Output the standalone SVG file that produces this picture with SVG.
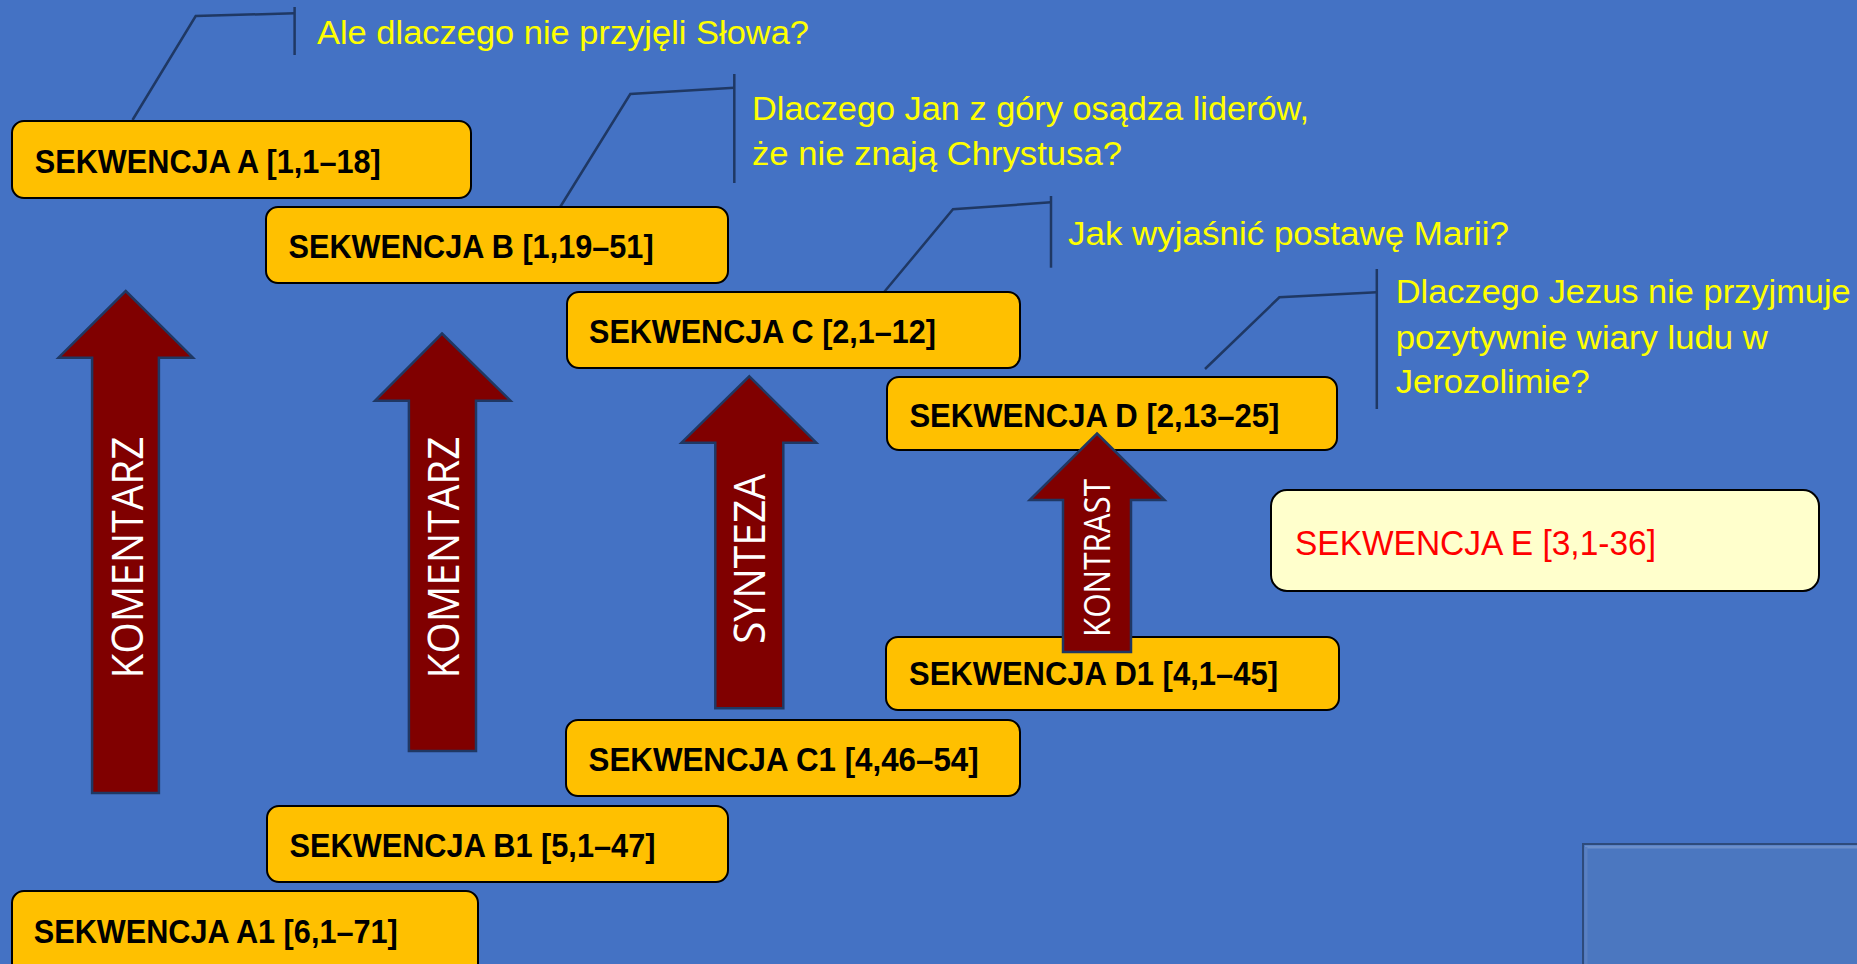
<svg xmlns="http://www.w3.org/2000/svg" width="1857" height="964" viewBox="0 0 1857 964">
<style>
.box{fill:#FFC000;stroke:#000;stroke-width:2}
.boxE{fill:#FFFFCC;stroke:#000;stroke-width:2}
.lbl{font-family:"Liberation Sans Narrow","Liberation Sans",Arial,sans-serif;font-weight:bold;font-size:33px;fill:#000}
.lblE{font-family:"Liberation Sans Narrow","Liberation Sans",Arial,sans-serif;font-size:35px;fill:#FF0000}
.q{font-family:"Liberation Sans Narrow","Liberation Sans",Arial,sans-serif;font-size:33px;fill:#FFFF00}
.arr{fill:#800000;stroke:#1F3864;stroke-width:2.5;stroke-linejoin:miter}
.al{font-family:"Open Sans","Noto Sans",sans-serif;fill:#FFFFFF;text-anchor:middle}
.co{fill:none;stroke:#1F3864;stroke-width:2.5}
</style>
<rect x="0" y="0" width="1857" height="964" fill="#4472C4"/>
<g id="corner-panel">
<rect x="1583" y="844" width="290" height="130" fill="#4B77C0" stroke="#2E4B7C" stroke-width="2"/>
<line x1="1585" y1="847" x2="1857" y2="847" stroke="#6C8FCB" stroke-width="3"/>
<line x1="1586" y1="847" x2="1586" y2="964" stroke="#5A80C2" stroke-width="3"/>
</g>
<g id="connectors">
<polyline class="co" points="132.5,120 195.7,16 294.6,13.3"/>
<line class="co" x1="294.6" y1="7" x2="294.6" y2="55"/>
<polyline class="co" points="560.2,207 630.3,94 734.3,87.7"/>
<line class="co" x1="734.3" y1="74" x2="734.3" y2="183"/>
<polyline class="co" points="882.5,294 953,209.3 1051,202.3"/>
<line class="co" x1="1051" y1="196" x2="1051" y2="267.7"/>
<polyline class="co" points="1205,369 1279.4,297.3 1376.8,292.3"/>
<line class="co" x1="1376.8" y1="269" x2="1376.8" y2="409"/>
</g>
<g id="q-A"><text class="q" x="317" y="44.3" textLength="492" lengthAdjust="spacingAndGlyphs">Ale dlaczego nie przyjęli Słowa?</text></g>
<g id="q-B">
<text class="q" x="752" y="120" textLength="557" lengthAdjust="spacingAndGlyphs">Dlaczego Jan z góry osądza liderów,</text>
<text class="q" x="752" y="164.5" textLength="370" lengthAdjust="spacingAndGlyphs">że nie znają Chrystusa?</text>
</g>
<g id="q-C"><text class="q" x="1068" y="245" textLength="441" lengthAdjust="spacingAndGlyphs">Jak wyjaśnić postawę Marii?</text></g>
<g id="q-D">
<text class="q" x="1395.7" y="303.3" textLength="455" lengthAdjust="spacingAndGlyphs">Dlaczego Jezus nie przyjmuje</text>
<text class="q" x="1395.7" y="349" textLength="372" lengthAdjust="spacingAndGlyphs">pozytywnie wiary ludu w</text>
<text class="q" x="1395.7" y="393.3" textLength="194" lengthAdjust="spacingAndGlyphs">Jerozolimie?</text>
</g>
<g id="node-A"><rect class="box" x="12" y="121" width="459" height="77" rx="12"/><text class="lbl" x="34.8" y="173.3" textLength="346" lengthAdjust="spacingAndGlyphs">SEKWENCJA A [1,1–18]</text></g>
<g id="node-B"><rect class="box" x="266" y="207" width="462" height="76" rx="12"/><text class="lbl" x="288.6" y="258.3" textLength="365" lengthAdjust="spacingAndGlyphs">SEKWENCJA B [1,19–51]</text></g>
<g id="node-C"><rect class="box" x="567" y="292" width="453" height="76" rx="12"/><text class="lbl" x="589" y="343.3" textLength="347" lengthAdjust="spacingAndGlyphs">SEKWENCJA C [2,1–12]</text></g>
<g id="node-D"><rect class="box" x="887" y="377" width="450" height="73" rx="12"/><text class="lbl" x="909.4" y="426.7" textLength="370" lengthAdjust="spacingAndGlyphs">SEKWENCJA D [2,13–25]</text></g>
<g id="node-E"><rect class="boxE" x="1271" y="490" width="548" height="101" rx="16"/><text class="lblE" x="1295" y="555" textLength="361" lengthAdjust="spacingAndGlyphs">SEKWENCJA E [3,1-36]</text></g>
<g id="node-D1"><rect class="box" x="886" y="637" width="453" height="73" rx="12"/><text class="lbl" x="909" y="685" textLength="369" lengthAdjust="spacingAndGlyphs">SEKWENCJA D1 [4,1–45]</text></g>
<g id="node-C1"><rect class="box" x="566" y="720" width="454" height="76" rx="12"/><text class="lbl" x="588.6" y="771" textLength="390" lengthAdjust="spacingAndGlyphs">SEKWENCJA C1 [4,46–54]</text></g>
<g id="node-B1"><rect class="box" x="267" y="806" width="461" height="76" rx="12"/><text class="lbl" x="289.5" y="857.3" textLength="366" lengthAdjust="spacingAndGlyphs">SEKWENCJA B1 [5,1–47]</text></g>
<g id="node-A1"><rect class="box" x="12" y="891" width="466" height="95" rx="12"/><text class="lbl" x="33.8" y="942.7" textLength="364" lengthAdjust="spacingAndGlyphs">SEKWENCJA A1 [6,1–71]</text></g>
<g id="arrow-1">
<polygon class="arr" points="125.7,291 193,357.7 158.9,357.7 158.9,793 92.1,793 92.1,357.7 58.5,357.7"/>
<text class="al" transform="translate(143,557.5) rotate(-90)" font-size="44" textLength="242" lengthAdjust="spacingAndGlyphs">KOMENTARZ</text>
</g>
<g id="arrow-2">
<polygon class="arr" points="442,333.5 510.5,400.7 476,400.7 476,751 408.9,751 408.9,400.7 375,400.7"/>
<text class="al" transform="translate(459,557.5) rotate(-90)" font-size="44" textLength="242" lengthAdjust="spacingAndGlyphs">KOMENTARZ</text>
</g>
<g id="arrow-3">
<polygon class="arr" points="749.3,376.3 816.3,442.7 783.3,442.7 783.3,708.3 715.3,708.3 715.3,442.7 681.5,442.7"/>
<text class="al" transform="translate(765,559) rotate(-90)" font-size="43" textLength="170" lengthAdjust="spacingAndGlyphs">SYNTEZA</text>
</g>
<g id="arrow-4">
<polygon class="arr" points="1097,433.5 1164.5,500 1131,500 1131,652 1063,652 1063,500 1029.7,500"/>
<text class="al" transform="translate(1110,558) rotate(-90)" font-size="36" textLength="158" lengthAdjust="spacingAndGlyphs">KONTRAST</text>
</g>
</svg>
